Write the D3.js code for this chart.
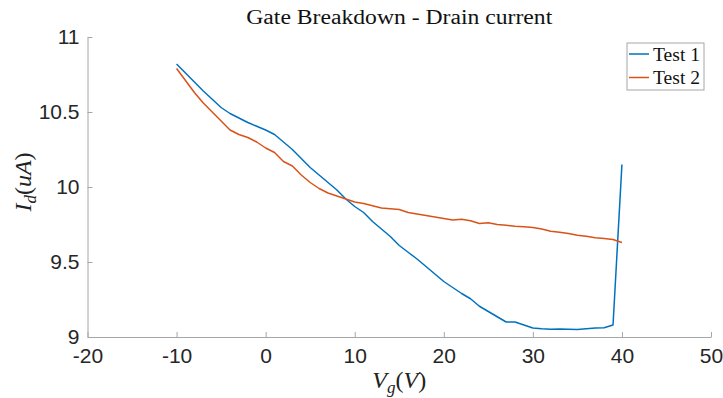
<!DOCTYPE html>
<html>
<head>
<meta charset="utf-8">
<script src="https://cdn.jsdelivr.net/npm/d3@7"></script>
<style>
  body { margin: 0; background: #fff; }
</style>
</head>
<body>
<div id="chart-container"></div>
<script>
const gateVoltage = d3.range(-10, 41);

const test1 = [
  10.82, 10.76, 10.70, 10.64, 10.585, 10.53, 10.49, 10.46, 10.43, 10.405,
  10.38, 10.35, 10.30, 10.25, 10.19, 10.13, 10.08, 10.03, 9.98, 9.92,
  9.87, 9.83, 9.77, 9.72, 9.67, 9.61, 9.565, 9.52, 9.47, 9.42,
  9.37, 9.33, 9.29, 9.255, 9.205, 9.17, 9.135, 9.10, 9.10, 9.08,
  9.06, 9.055, 9.052, 9.053, 9.052, 9.05, 9.055, 9.06, 9.062, 9.08,
  10.15,
];

const test2 = [
  10.79, 10.71, 10.63, 10.56, 10.50, 10.44, 10.38, 10.35, 10.33, 10.30,
  10.26, 10.23, 10.17, 10.14, 10.08, 10.03, 9.99, 9.96, 9.94, 9.92,
  9.90, 9.89, 9.875, 9.86, 9.855, 9.85, 9.83, 9.82, 9.81, 9.80,
  9.79, 9.78, 9.785, 9.775, 9.757, 9.762, 9.75, 9.745, 9.738, 9.735,
  9.73, 9.72, 9.705, 9.698, 9.69, 9.678, 9.672, 9.662, 9.656, 9.65,
  9.63,
];

const seriesNames = ["Test 1", "Test 2"];
const xTicks = [-20, -10, 0, 10, 20, 30, 40, 50];
const yTicks = [9, 9.5, 10, 10.5, 11];

function lineChart() {
  const margin = { top: 37, right: 12, bottom: 61, left: 87.5 };
  const width = 723 - margin.left - margin.right;
  const height = 398 - margin.top - margin.bottom;
  const axisColor = "#a6a6a6";
  const colors = ["#0072BD", "#D95319"];

  const svg = d3
    .select("#chart-container")
    .append("svg")
    .attr("width", 723)
    .attr("height", 398);

  const g = svg.append("g").attr("transform", `translate(${margin.left},${margin.top})`);

  const x = d3.scaleLinear().domain([-20, 50]).range([0, width]);
  const y = d3.scaleLinear().domain([9, 11]).range([height, 0]);

  const xAxis = g
    .append("g")
    .attr("transform", `translate(0,${height})`)
    .call(
      d3.axisBottom(x)
        .tickValues(xTicks)
        .tickFormat((d) => String(d))
        .tickSizeInner(-5)
        .tickSizeOuter(0),
    );

  const yAxis = g
    .append("g")
    .call(
      d3.axisLeft(y)
        .tickValues(yTicks)
        .tickFormat((d) => String(d))
        .tickSizeInner(-5)
        .tickSizeOuter(0)
        .tickPadding(8),
    );

  [xAxis, yAxis].forEach((ax) => {
    ax.select(".domain").attr("stroke", axisColor);
    ax.selectAll(".tick line").attr("stroke", axisColor);
    ax.selectAll("text")
      .attr("fill", "#262626")
      .style("font-family", "Liberation Sans, Arial, sans-serif")
      .style("font-size", "21px");
  });
  xAxis.selectAll("text").attr("dy", "0.71em").attr("y", 11);

  const line = d3
    .line()
    .x((d, i) => x(gateVoltage[i]))
    .y((d) => y(d));

  [test1, test2].forEach((data, i) => {
    g.append("path")
      .datum(data)
      .attr("fill", "none")
      .attr("stroke", colors[i])
      .attr("stroke-width", 1.5)
      .attr("stroke-linejoin", "round")
      .attr("d", line);
  });

  // title
  svg.append("text")
    .attr("x", margin.left + width / 2)
    .attr("y", 24)
    .attr("text-anchor", "middle")
    .attr("textLength", 306)
    .attr("lengthAdjust", "spacingAndGlyphs")
    .style("font-family", "Liberation Serif, serif")
    .style("font-size", "20px")
    .attr("fill", "#111")
    .text("Gate Breakdown - Drain current");

  // x label
  const xl = svg.append("text")
    .attr("x", margin.left + width / 2)
    .attr("y", 388)
    .attr("text-anchor", "middle")
    .style("font-family", "Liberation Serif, serif")
    .style("font-size", "24px")
    .attr("fill", "#222");
  xl.append("tspan").style("font-style", "italic").text("V");
  xl.append("tspan").style("font-style", "italic").style("font-size", "17px").attr("dy", 5).text("g");
  xl.append("tspan").attr("dy", -5).text("(");
  xl.append("tspan").style("font-style", "italic").text("V");
  xl.append("tspan").text(")");

  // y label
  const yl = svg.append("text")
    .attr("transform", `translate(31,${margin.top + height / 2 - 5}) rotate(-90)`)
    .attr("text-anchor", "middle")
    .style("font-family", "Liberation Serif, serif")
    .style("font-size", "24px")
    .attr("fill", "#222");
  yl.append("tspan").style("font-style", "italic").text("I");
  yl.append("tspan").style("font-style", "italic").style("font-size", "17px").attr("dy", 5).text("d");
  yl.append("tspan").attr("dy", -5).text("(");
  yl.append("tspan").style("font-style", "italic").text("uA");
  yl.append("tspan").text(")");

  // legend
  const legend = svg.append("g").attr("transform", "translate(627,43)");
  legend.append("rect")
    .attr("width", 77)
    .attr("height", 47)
    .attr("fill", "#fff")
    .attr("stroke", axisColor)
    .attr("stroke-width", 1);

  seriesNames.forEach((name, i) => {
    const row = legend.append("g").attr("transform", `translate(0,${11 + i * 23.5})`);
    row.append("line")
      .attr("x1", 2)
      .attr("x2", 22)
      .attr("stroke", colors[i])
      .attr("stroke-width", 1.5);
    row.append("text")
      .attr("x", 26)
      .attr("dy", "0.35em")
      .attr("textLength", 47)
      .attr("lengthAdjust", "spacingAndGlyphs")
      .style("font-family", "Liberation Serif, serif")
      .style("font-size", "19px")
      .attr("fill", "#111")
      .text(name);
  });
}

lineChart();
</script>
</body>
</html>
